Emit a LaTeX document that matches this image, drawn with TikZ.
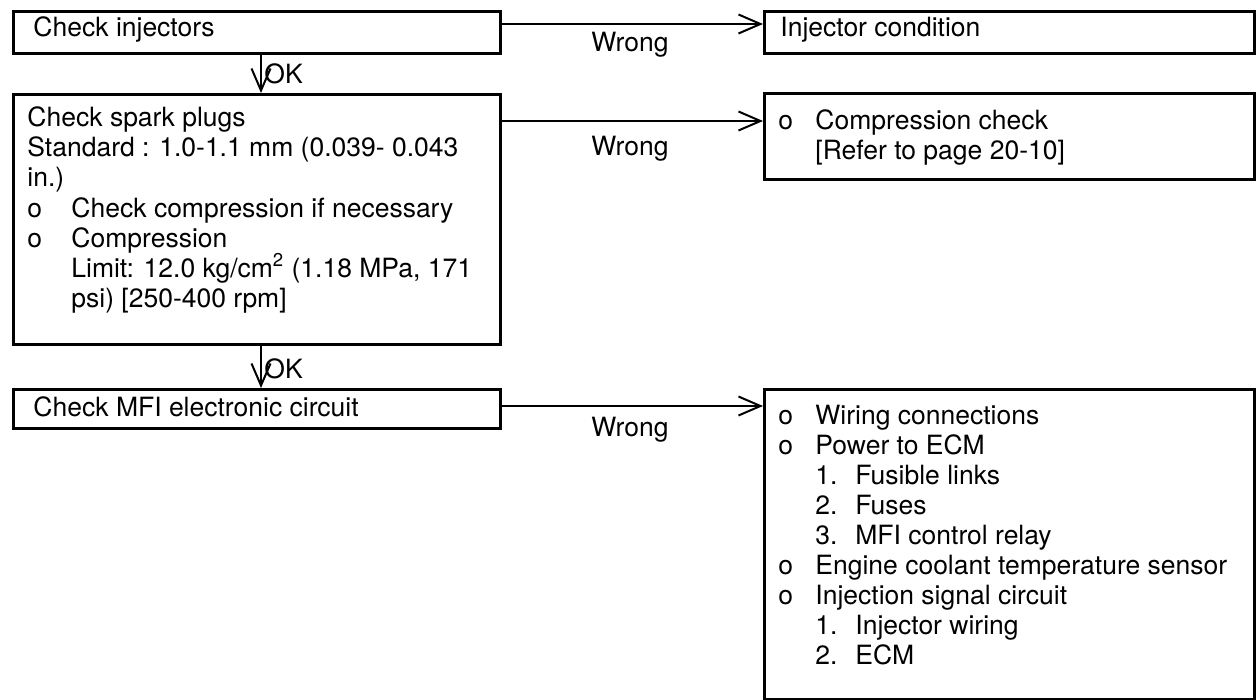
\documentclass[tikz,border=0pt]{standalone}
\usepackage{fontspec}
\setmainfont{TeX Gyre Heros}
\usetikzlibrary{arrows.meta}
\begin{document}
\begin{tikzpicture}[x=0.5pt,y=-0.5pt,
  box/.style={draw,line width=1.4pt,inner sep=0pt,anchor=north west},
  txt/.style={inner sep=0pt,anchor=base west,font=\fontsize{13.25}{15}\selectfont},
  lbl/.style={inner sep=0pt,anchor=base,font=\fontsize{13.25}{15}\selectfont},
  conn/.style={line width=1pt,-{Straight Barb[length=11pt,width=9.5pt,line width=1pt]}}]
\useasboundingbox (0,0) rectangle (1256,700);
% left boxes
\node[box,minimum width=487*0.5pt,minimum height=42*0.5pt] (b1) at (12,10) {};
\node[box,minimum width=487*0.5pt,minimum height=250*0.5pt] (b2) at (12,93) {};
\node[box,minimum width=487*0.5pt,minimum height=39*0.5pt] (b3) at (12,388) {};
% right boxes
\node[box,minimum width=490*0.5pt,minimum height=42*0.5pt] (r1) at (763,10) {};
\node[box,minimum width=490*0.5pt,minimum height=86*0.5pt] (r2) at (763,92) {};
\node[box,minimum width=490*0.5pt,minimum height=310*0.5pt] (r3) at (763,388) {};
% texts
\node[txt] (t1) at (33,37) {Check injectors};
\node[txt] (t2a) at (27,127) {Check spark plugs};
\node[txt] (t2b) at (27,157) {Standard : 1.0-1.1 mm (0.039- 0.043};
\node[txt] (t2c) at (27,187) {in.)};
\node[txt] (t2d) at (27,217) {o};
\node[txt] (t2e) at (71,217) {Check compression if necessary};
\node[txt] (t2f) at (27,247) {o};
\node[txt] (t2g) at (71,247) {Compression};
\node[txt] (t2h) at (71,277) {Limit: 12.0 kg/cm\textsuperscript{2} (1.18 MPa, 171};
\node[txt] (t2i) at (71,307) {psi) [250-400 rpm]};
\node[txt] (t3) at (33,416) {Check MFI electronic circuit};
\node[txt] (u1) at (780,37) {Injector condition};
\node[txt] (u2a) at (778,130) {o};
\node[txt] (u2b) at (815,130) {Compression check};
\node[txt] (u2c) at (815,160) {[Refer to page 20-10]};
\foreach \i/\t in {0/Wiring connections,1/Power to ECM,5/Engine coolant temperature sensor,6/Injection signal circuit}{
  \node[txt] (ub\i) at (778,424+30*\i) {o};
  \node[txt] (ut\i) at (815,424+30*\i) {\t};
}
\foreach \i/\n/\t in {2/1./Fusible links,3/2./Fuses,4/3./MFI control relay,7/1./Injector wiring,8/2./ECM}{
  \node[txt] (nb\i) at (815,424+30*\i) {\n};
  \node[txt] (nt\i) at (855,424+30*\i) {\t};
}
% connectors
\coordinate (c1) at (499,24);
\coordinate (c2) at (499,121);
\coordinate (c3) at (499,406);
\draw[conn] (c1) -- (c1 -| r1.west);
\draw[conn] (c2) -- (c2 -| r2.west);
\draw[conn] (c3) -- (c3 -| r3.west);
\node[lbl] (w1) at (630,52) {Wrong};
\node[lbl] (w2) at (630,156) {Wrong};
\node[lbl] (w3) at (630,436) {Wrong};
\coordinate (d1) at (261,52);
\coordinate (d2) at (261,343);
\draw[conn] (d1) -- (d1 |- b2.north);
\draw[conn] (d2) -- (d2 |- b3.north);
\node[txt] (ok1) at (264,84) {OK};
\node[txt] (ok2) at (264,378) {OK};
\end{tikzpicture}
\end{document}
